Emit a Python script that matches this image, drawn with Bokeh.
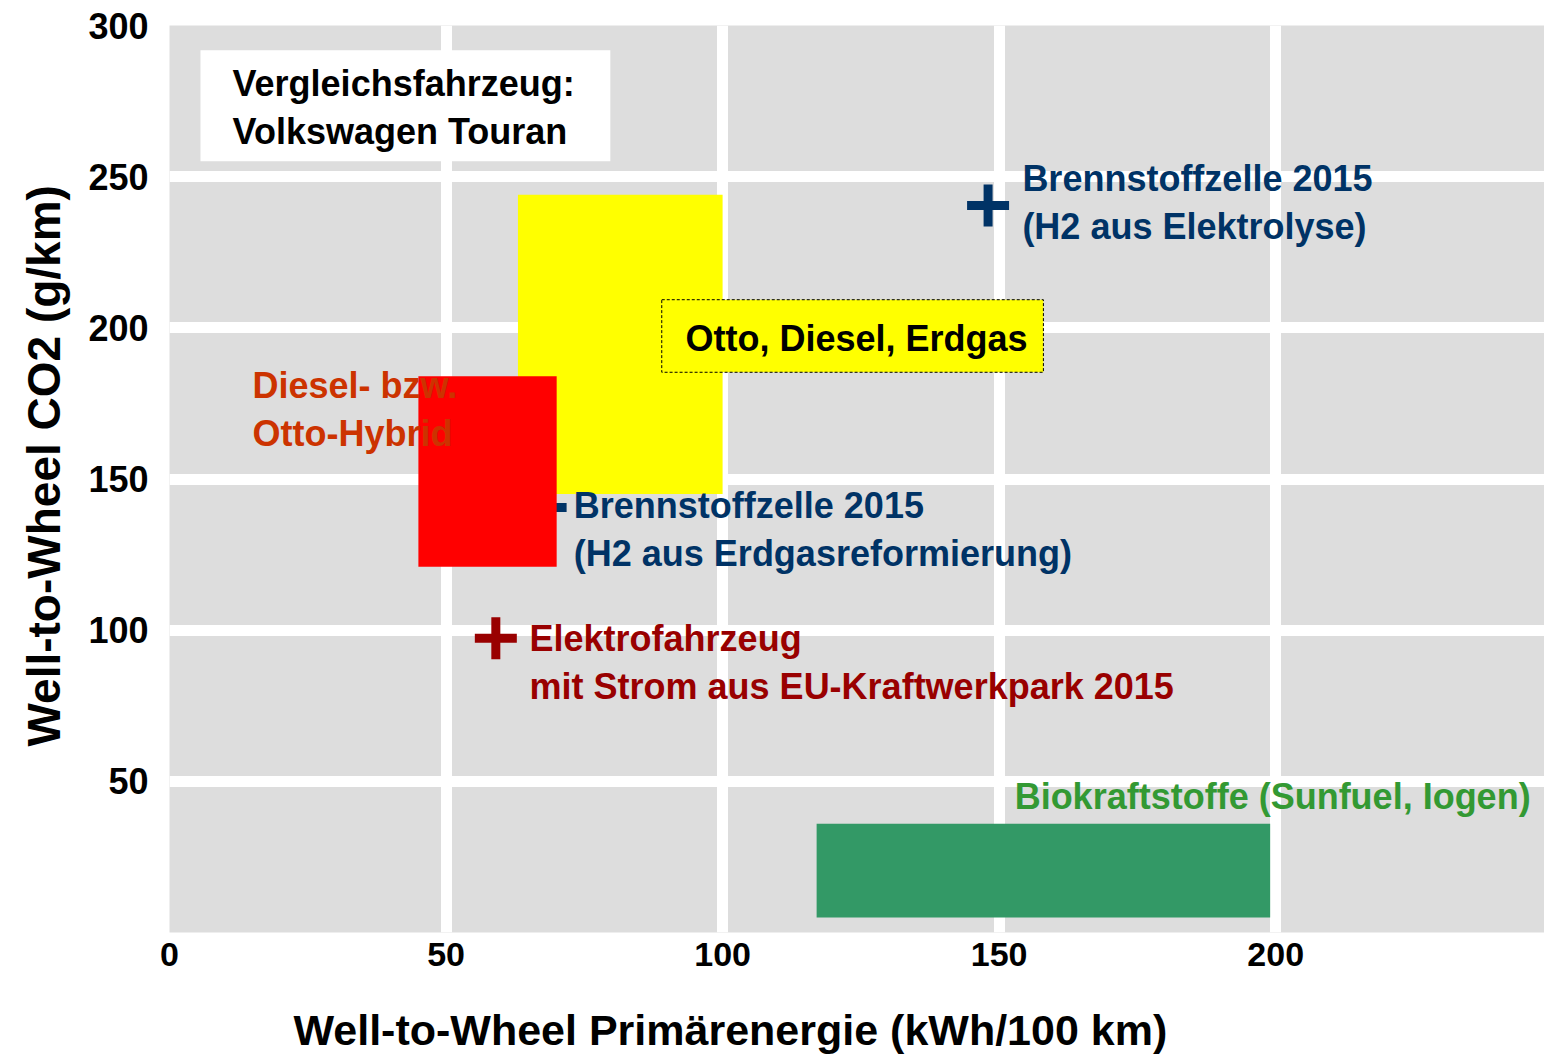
from bokeh.plotting import figure
from bokeh.models import ColumnDataSource, Range1d, FixedTicker, Label, BoxAnnotation, Title
from bokeh.core.properties import value
from bokeh.embed import file_html
from bokeh.resources import INLINE

FONT = "Liberation Sans"

# ---------------- data ----------------
x_ticks = [0, 50, 100, 150, 200]
y_ticks = [50, 100, 150, 200, 250, 300]

area_names = ["Otto, Diesel, Erdgas", "Diesel- bzw. Otto-Hybrid", "Biokraftstoffe (Sunfuel, Iogen)"]
area_energy_min = [63, 45, 117]
area_energy_max = [100, 70, 199]
area_co2_min = [145, 121, 5]
area_co2_max = [244, 184, 36]
area_colors = ["#FFFF00", "#FF0000", "#339966"]

point_names = ["Brennstoffzelle 2015 (H2 aus Erdgasreformierung)",
               "Elektrofahrzeug mit Strom aus EU-Kraftwerkpark 2015",
               "Brennstoffzelle 2015 (H2 aus Elektrolyse)"]
point_energy = [68, 59, 148]
point_co2 = [140.6, 97.3, 240.5]
point_colors = ["#003366", "#990000", "#003366"]

label_text = ["Brennstoffzelle 2015\n(H2 aus Elektrolyse)",
              "Brennstoffzelle 2015\n(H2 aus Erdgasreformierung)",
              "Elektrofahrzeug\nmit Strom aus EU-Kraftwerkpark 2015",
              "Diesel- bzw.\nOtto-Hybrid",
              "Biokraftstoffe (Sunfuel, Iogen)"]
label_energy = [154.2, 73.1, 65.1, 15.0, 152.8]
label_co2 = [241.5, 133.3, 89.3, 173.0, 45.0]
label_colors = ["#003366", "#003366", "#990000", "#CC3300", "#339933"]

# ---------------- figure ----------------
p = figure(width=1544, height=1054,
           x_range=Range1d(0, 248.6), y_range=Range1d(0, 300),
           output_backend="svg", toolbar_location=None,
           min_border_left=169, min_border_right=0,
           min_border_top=25, min_border_bottom=122)

p.background_fill_color = "#DDDDDD"
p.border_fill_color = "white"
p.outline_line_color = None

p.xgrid.ticker = FixedTicker(ticks=x_ticks)
p.ygrid.ticker = FixedTicker(ticks=[0] + y_ticks)
for g in (p.xgrid, p.ygrid):
    g.grid_line_color = "white"
    g.grid_line_width = 11
    g.grid_line_alpha = 1

p.xaxis.ticker = FixedTicker(ticks=x_ticks)
p.yaxis.ticker = FixedTicker(ticks=y_ticks)
for ax in (p.xaxis, p.yaxis):
    ax.axis_line_color = None
    ax.major_tick_line_color = None
    ax.minor_tick_line_color = None
    ax.major_label_text_font = FONT
    ax.major_label_text_font_style = "bold"
    ax.major_label_text_color = "black"
p.xaxis.major_label_text_font_size = "34px"
p.yaxis.major_label_text_font_size = "36px"
p.xaxis.major_label_standoff = 4
p.yaxis.major_label_standoff = 15

# spacer below the x tick labels so the title sits at the bottom
p.xaxis.axis_label = " "
p.xaxis.axis_label_text_font_size = "1px"
p.xaxis.axis_label_standoff = 31

# axis titles, placed like the reference
xt = Title(text="Well-to-Wheel Primärenergie (kWh/100 km)", align="left", offset=124,
           text_font=FONT, text_font_size="43px", text_font_style="bold",
           text_color="black", standoff=0)
p.add_layout(xt, "below")

yt = Title(text="Well-to-Wheel CO2 (g/km)", align="left", offset=186,
           vertical_align="middle",
           text_font=FONT, text_font_size="46px", text_font_style="bold",
           text_color="black", standoff=29)
p.add_layout(yt, "left")

# markers (the first is partly hidden behind the hybrid area)
psrc = ColumnDataSource(dict(x=point_energy, y=point_co2, c=point_colors, n=point_names))
p.scatter("x", "y", source=psrc, marker="cross", size=42, line_width=9, line_color="c")

# areas
asrc = ColumnDataSource(dict(left=area_energy_min, right=area_energy_max,
                             bottom=area_co2_min, top=area_co2_max,
                             c=area_colors, n=area_names))
p.quad(left="left", right="right", bottom="bottom", top="top", source=asrc,
       fill_color="c", line_color=None)

# point / area labels
lsrc = ColumnDataSource(dict(x=label_energy, y=label_co2, t=label_text, c=label_colors))
p.text("x", "y", text="t", source=lsrc, text_color="c",
       text_font=value(FONT), text_font_size="36px", text_font_style="bold",
       text_align="left", text_baseline="middle", text_line_height=1.16)

# annotation boxes
p.add_layout(BoxAnnotation(left=5.6, right=79.7, top=291.8, bottom=255.1,
                           fill_color="white", fill_alpha=1, line_color=None))
p.add_layout(Label(x=11.4, y=272.9, text="Vergleichsfahrzeug:\nVolkswagen Touran",
                   text_font=FONT, text_font_size="36px", text_font_style="bold",
                   text_color="black", text_align="left", text_baseline="middle",
                   text_line_height=1.16))

p.add_layout(BoxAnnotation(left=89.0, right=158.0, top=209.3, bottom=185.3,
                           fill_color="#FFFF00", fill_alpha=1, line_color="black",
                           line_alpha=1, line_width=1, line_dash="3 2"))
p.add_layout(Label(x=93.3, y=196.5, text=area_names[0],
                   text_font=FONT, text_font_size="36px", text_font_style="bold",
                   text_color="black", text_align="left", text_baseline="middle"))

open("out.html", "w").write(file_html(p, INLINE))
